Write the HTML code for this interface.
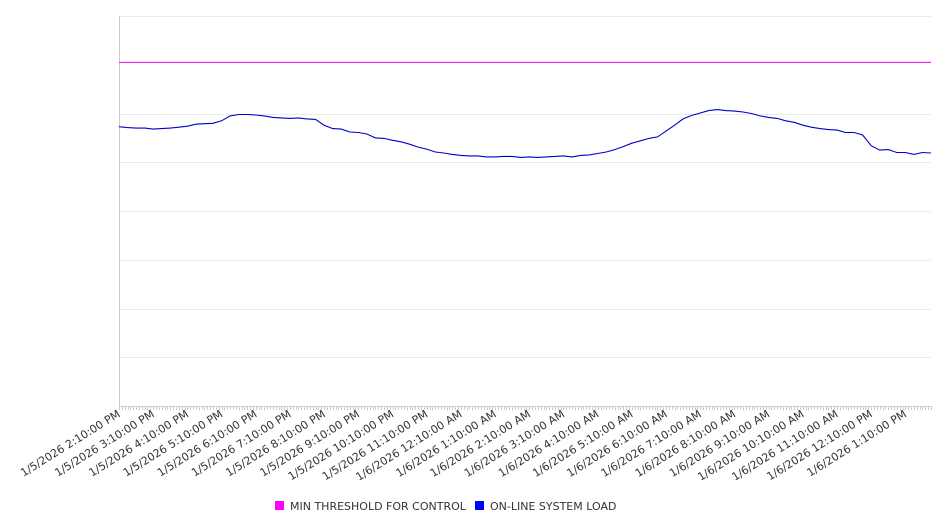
<!DOCTYPE html>
<html><head><meta charset="utf-8"><style>
html,body{margin:0;padding:0;background:#fff;}
svg{display:block;font-family:"DejaVu Sans","Liberation Sans",sans-serif;}
</style></head><body>
<svg id="chart" width="946" height="526" viewBox="0 0 946 526" xmlns="http://www.w3.org/2000/svg">
<g id="grid"></g>
<g id="ticks"></g>
<g id="labels"></g>
<g id="series"></g>
<g>
  <g>
    <rect x="275" y="501" width="9" height="9" fill="#ff00ff"/>
    <text x="290" y="510" font-size="11" fill="#333">MIN THRESHOLD FOR CONTROL</text>
  </g>
  <g>
    <rect x="475" y="501" width="9" height="9" fill="#0000ff"/>
    <text x="490" y="510" font-size="11" fill="#333">ON-LINE SYSTEM LOAD</text>
  </g>
</g>
</svg>
<script>
// data: 15-minute samples starting 1/5/2026 2:10 PM
const hourLabels = ["1/5/2026 2:10:00 PM","1/5/2026 3:10:00 PM","1/5/2026 4:10:00 PM","1/5/2026 5:10:00 PM","1/5/2026 6:10:00 PM","1/5/2026 7:10:00 PM","1/5/2026 8:10:00 PM","1/5/2026 9:10:00 PM","1/5/2026 10:10:00 PM","1/5/2026 11:10:00 PM","1/6/2026 12:10:00 AM","1/6/2026 1:10:00 AM","1/6/2026 2:10:00 AM","1/6/2026 3:10:00 AM","1/6/2026 4:10:00 AM","1/6/2026 5:10:00 AM","1/6/2026 6:10:00 AM","1/6/2026 7:10:00 AM","1/6/2026 8:10:00 AM","1/6/2026 9:10:00 AM","1/6/2026 10:10:00 AM","1/6/2026 11:10:00 AM","1/6/2026 12:10:00 PM","1/6/2026 1:10:00 PM"];
const loadValues = [573,571,570,570,568,569,570,572,574,578,579,580,585,595,598,598,597,595,592,591,590,591,589,588,576,569,568,562,561,558,550,549,545,542,537,531,527,521,519,516,514,513,513,511,511,512,512,510,511,510,511,512,513,511,514,515,518,521,526,532,539,544,549,552,564,576,589,596,601,606,608,606,605,603,600,595,592,590,585,582,576,572,569,567,566,561,561,556,534,525,526,520,520,516,520,519];
const gridValues = [100,200,300,400,500,600,800];
const thresholdValue = 705;
const yMax = 800;
const sampleMinutes = 15;
const totalMinutes = 1425;

const L=119,R=931,T=16,B=406;
const NS="http://www.w3.org/2000/svg";
function xs(min){return L+(min/totalMinutes)*(R-L);}
function ys(v){return B-(v/yMax)*(B-T);}
function mk(tag,attrs,parent){const e=document.createElementNS(NS,tag);for(const k in attrs)e.setAttribute(k,attrs[k]);parent.appendChild(e);return e;}

const grid=document.getElementById('grid');
gridValues.forEach(v=>{
  const y=Math.round(ys(v))+0.5;
  const ln=mk('line',{x1:L,x2:R,y1:y,y2:y,stroke:'#ebebeb','stroke-width':1},grid);
  
  
});
const ya=mk('line',{x1:L+0.5,x2:L+0.5,y1:T,y2:B,stroke:'#cccccc','stroke-width':1},grid);


const xa=mk('line',{x1:L,x2:R,y1:B+0.5,y2:B+0.5,stroke:'#cccccc','stroke-width':1},grid);



const ticks=document.getElementById('ticks');
for(let m=0;m<=totalMinutes;m+=5){
  const x=Math.round(xs(m))+0.5;
  const t=mk('line',{x1:x,x2:x,y1:B,y2:B+4,stroke:'#cccccc','stroke-width':1},ticks);
  
  
}
const labels=document.getElementById('labels');
hourLabels.forEach((s,i)=>{
  const x=xs(i*60)+2, y=B+10;
  const t=mk('text',{x:x,y:y,'font-size':11,fill:'#333','text-anchor':'end',transform:`rotate(-32 ${x} ${y})`},labels);
  t.textContent=s;
  
  
});

const series=document.getElementById('series');
const th=mk('line',{x1:L,x2:R,y1:ys(thresholdValue),y2:ys(thresholdValue),stroke:'#ee00ee','stroke-width':1},series);


const pts=loadValues.map((v,i)=>xs(i*sampleMinutes).toFixed(1)+','+ys(v).toFixed(1)).join(' ');
const pl=mk('polyline',{points:pts,fill:'none',stroke:'#0000cc','stroke-width':1.1},series);


</script>
</body></html>
